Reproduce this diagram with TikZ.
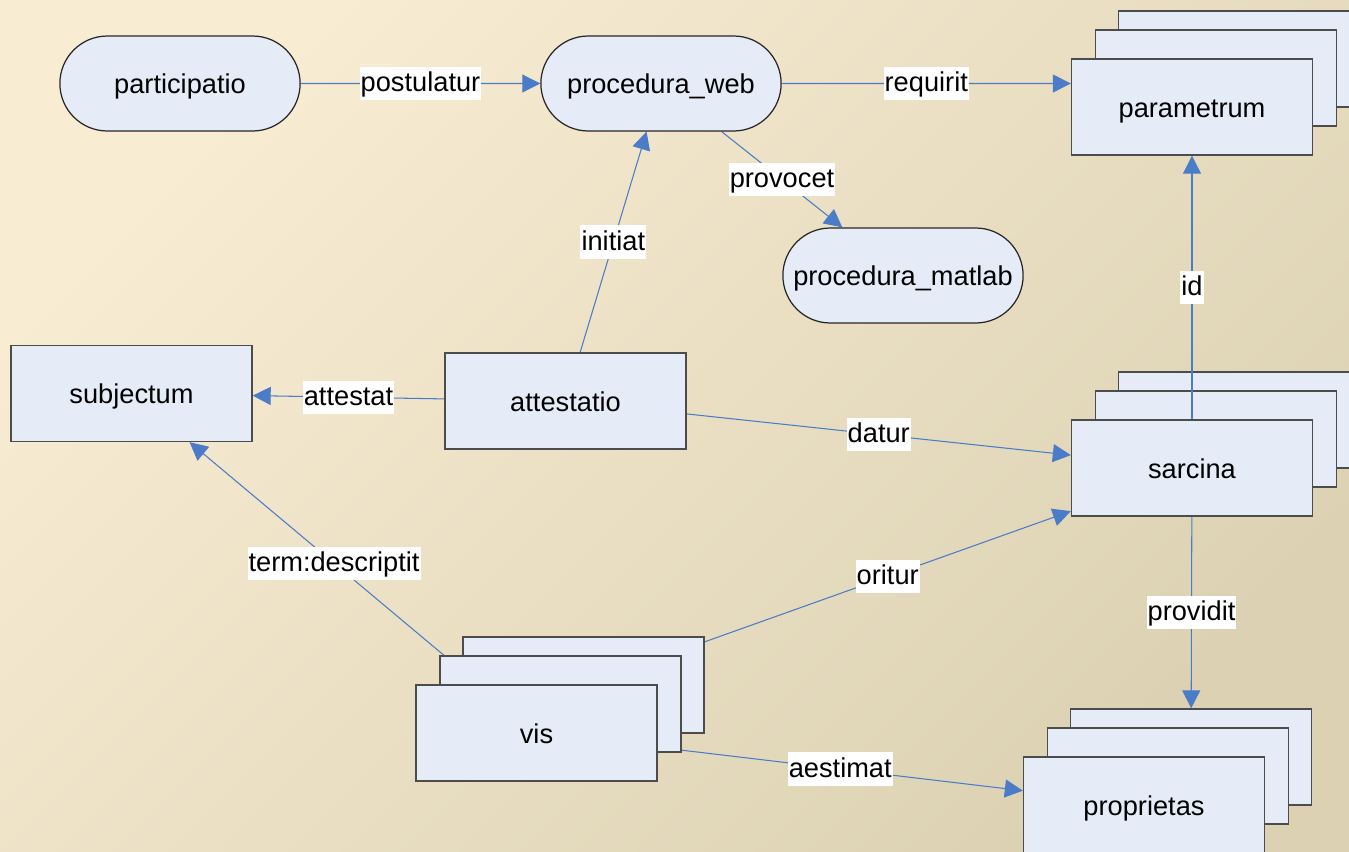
\documentclass[tikz,border=0pt]{standalone}
\usepackage{fontspec}
\setmainfont{Liberation Sans}
\usetikzlibrary{arrows.meta,shapes.misc,backgrounds}

\definecolor{boxfill}{HTML}{E6ECF7}
\definecolor{linkblue}{HTML}{4A7CC7}
\definecolor{bgcream}{HTML}{F8ECD3}
\definecolor{bgmid}{HTML}{EFE6CD}
\definecolor{bgtan}{HTML}{DCD2B3}

\tikzset{
	box/.style={draw=black!70, line width=0.8pt, fill=boxfill, minimum width=4.82cm, minimum height=1.92cm, inner sep=0pt, text height=14.5pt, text depth=3.1pt},
	stadium/.style={rounded rectangle, draw=black!85, line width=0.7pt, fill=boxfill, minimum width=5.04cm, minimum height=1.9cm, text height=14.5pt, text depth=3.1pt},
	link/.style={draw=linkblue, line width=0.6pt, -{Triangle[length=0.36cm,width=0.36cm]}},
	tag/.style={fill=white, inner xsep=0.6pt, inner ysep=0.57pt, text height=13.7pt, text depth=4.2pt},
}

\begin{document}
\begin{tikzpicture}[x=0.02cm, y=-0.02cm, font=\fontsize{15.5}{18}\selectfont]

% one unit is one pixel, y runs downwards
\useasboundingbox (0,0) rectangle (1349,852);
\begin{pgfonlayer}{background}
	\shade[top color=bgcream, middle color=bgmid, bottom color=bgtan, shading angle=45] (0,0) rectangle (1349,852);
\end{pgfonlayer}

% three sheets, the front one named #1
\newcommand*{\stackbox}[4] {
	\node[box] (#1-b) at (#2+47,#3-48) {};
	\node[box] (#1-m) at (#2+24,#3-29) {};
	\node[box] (#1) at (#2,#3) {#4};
}

\node[stadium] (part) at (180,83.5) {participatio};
\node[stadium] (pweb) at (661,83.5) {procedura\_web};
\node[stadium] (pmat) at (903,275.5) {procedura\_matlab};

\node[box] (subj) at (131.5,393.5) {subjectum};
\node[box] (att) at (565.5,401) {attestatio};

\stackbox{param}{1192}{107}{parametrum}
\stackbox{sarc}{1192}{468}{sarcina}
\stackbox{vis}{536.5}{733}{vis}
\stackbox{prop}{1144}{805}{proprietas}

% links run under the sheets
\begin{pgfonlayer}{background}
	\draw[link] (part) -- node[tag] {postulatur} (pweb);
	\draw[link] (pweb) -- node[tag] {requirit} (pweb -| param.west);
	\draw[link] (pweb) -- node[tag] {provocet} (pmat);
	\draw[link] (att) -- node[tag] {initiat} (pweb);
	\draw[link] (att) -- node[tag] {attestat} (subj);
	\draw[link] (att) -- node[tag] {datur} (sarc);
	\draw[link] (sarc) -- node[tag] {providit} (prop-b);
	\draw[link] (vis) -- node[tag] {term:descriptit} (subj);
	\draw[link] (vis-b) -- node[tag] {oritur} (sarc);
	\draw[link] (vis) -- node[tag] {aestimat} (prop);
\end{pgfonlayer}
\draw[link] (sarc) -- node[tag] {id} (param);

\end{tikzpicture}
\end{document}
